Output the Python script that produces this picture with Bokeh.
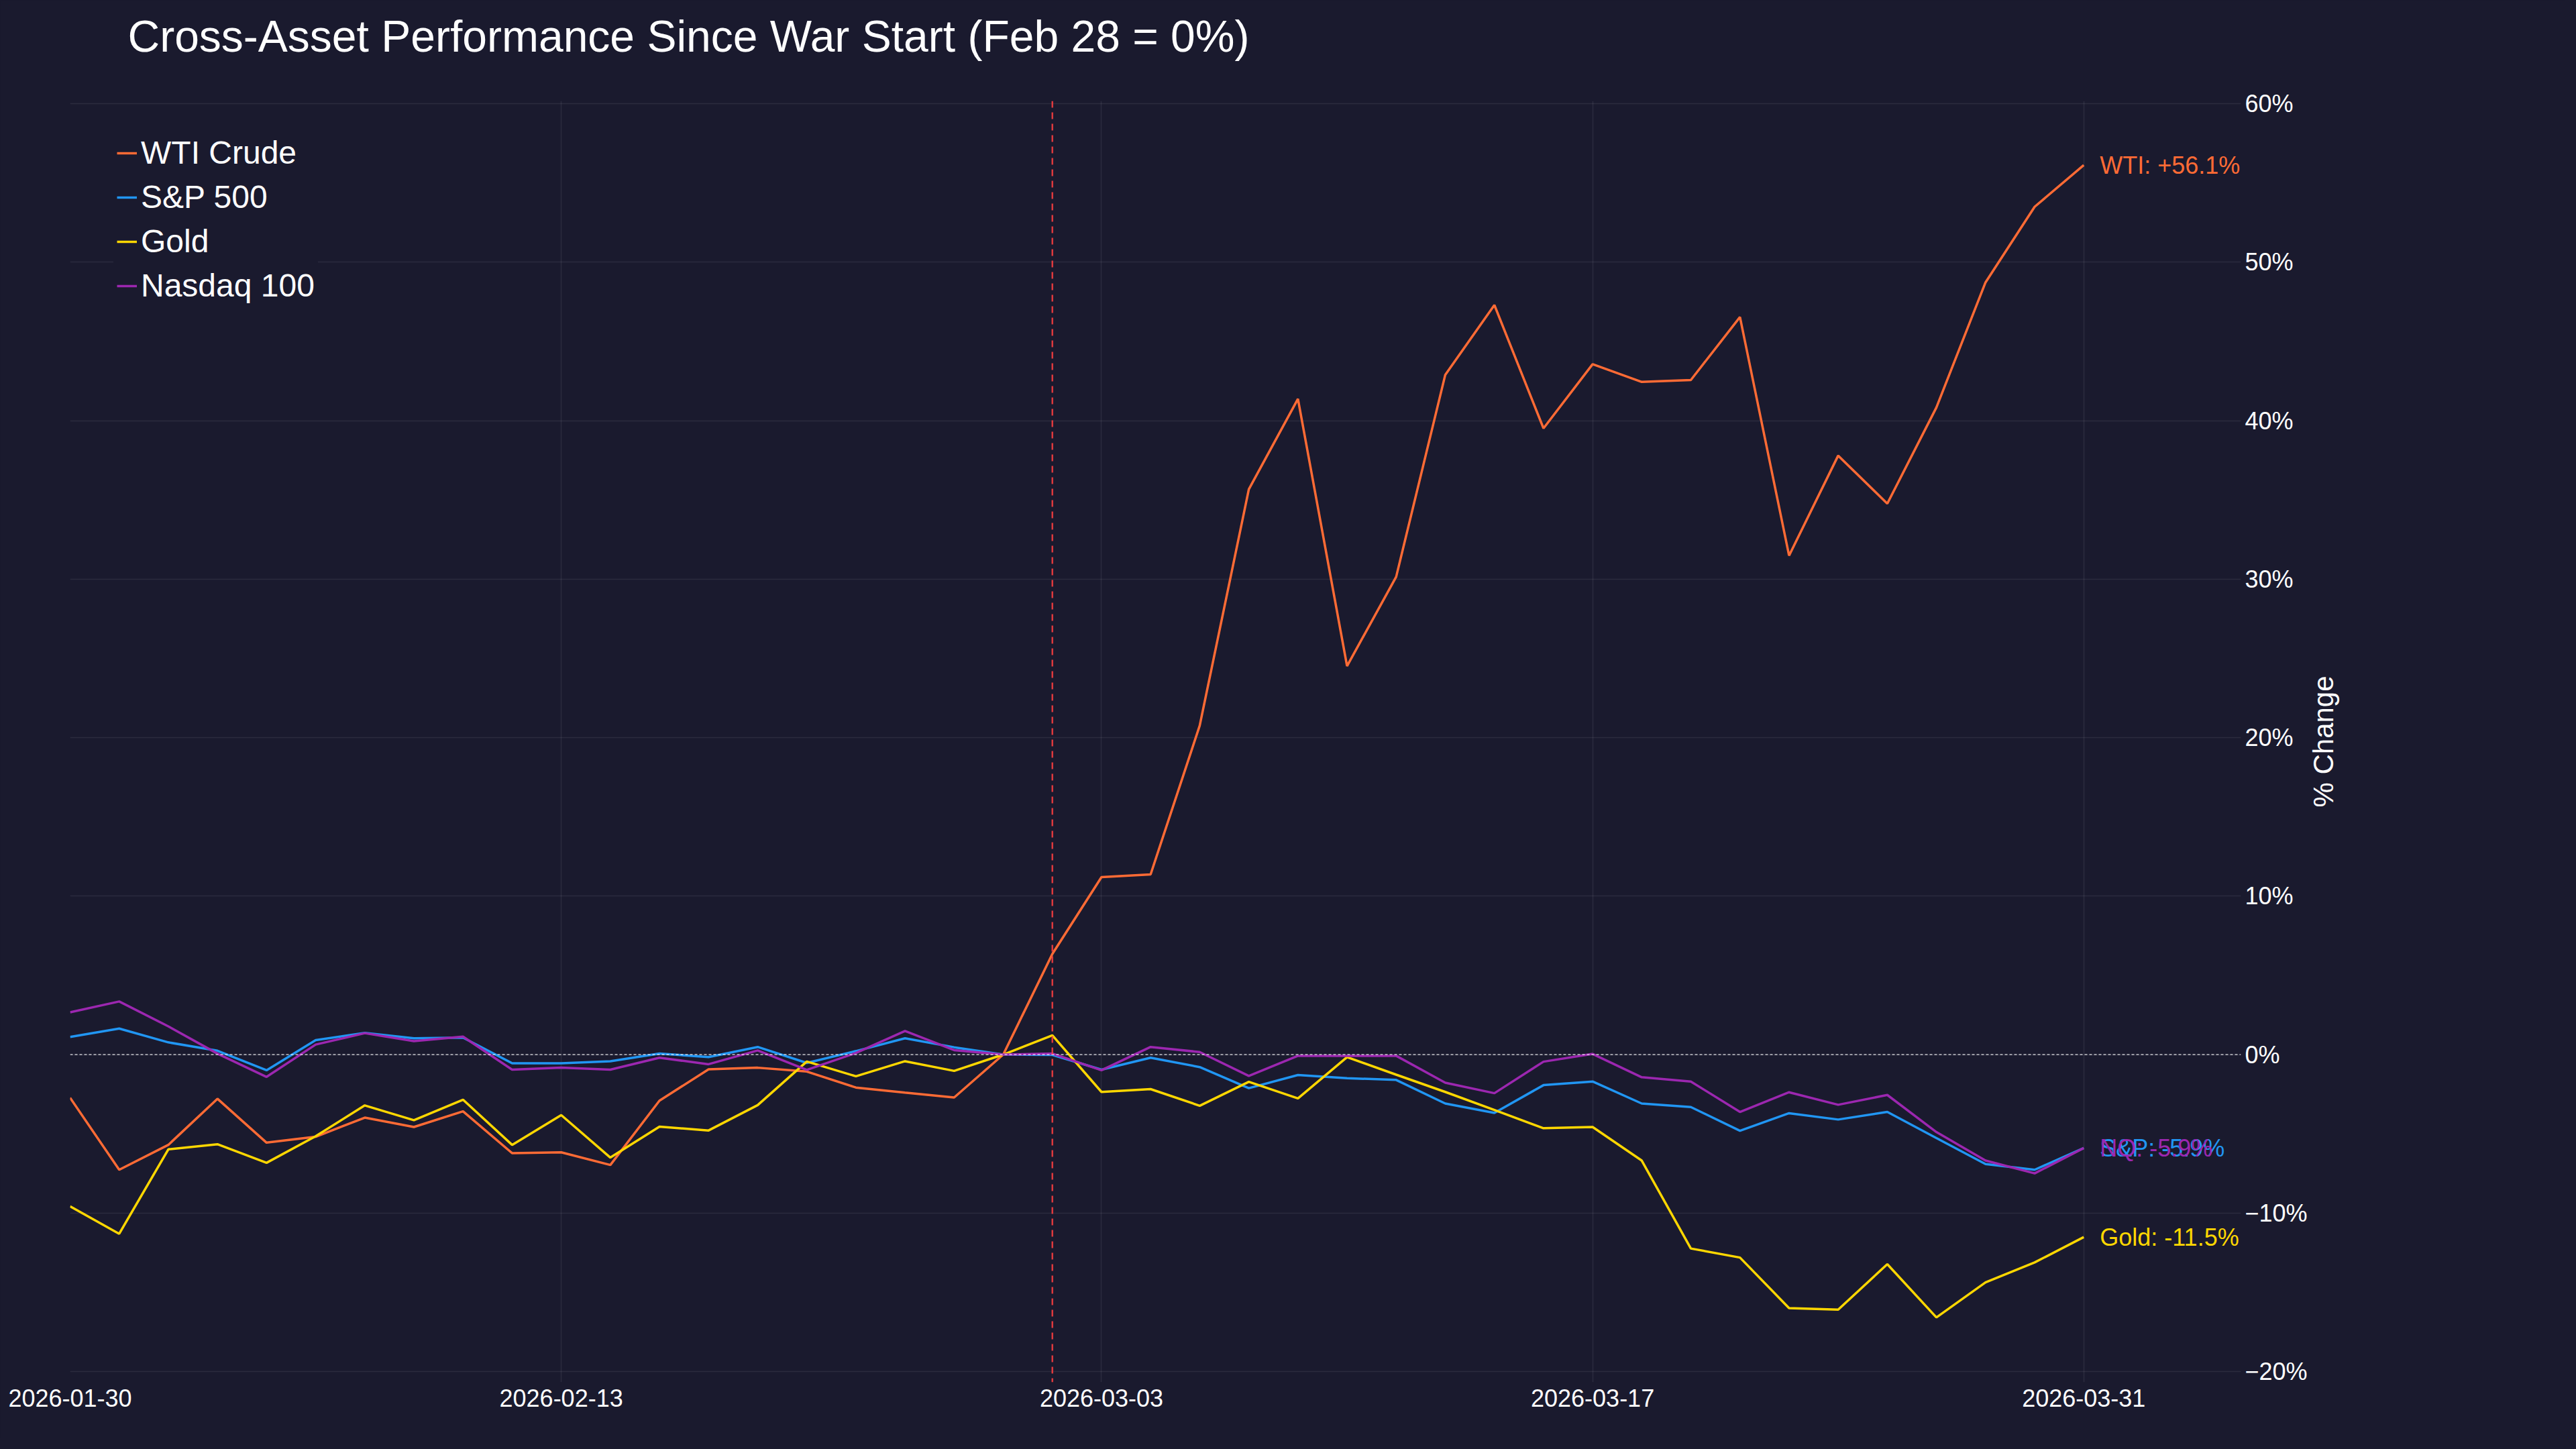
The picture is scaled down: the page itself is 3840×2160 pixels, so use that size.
import math
from bokeh.plotting import figure
from bokeh.models import (Span, FixedTicker, CustomJSTickFormatter, Range1d,
                          ColumnDataSource, LabelSet, Label, Title)
from bokeh.embed import file_html
from bokeh.resources import INLINE
from bokeh.core.properties import value

# ---------------- data ----------------
dates = [
    "2026-01-30", "2026-02-02", "2026-02-03", "2026-02-04", "2026-02-05", "2026-02-06",
    "2026-02-09", "2026-02-10", "2026-02-11", "2026-02-12", "2026-02-13",
    "2026-02-17", "2026-02-18", "2026-02-19", "2026-02-20",
    "2026-02-23", "2026-02-24", "2026-02-25", "2026-02-26", "2026-02-27",
    "2026-03-02", "2026-03-03", "2026-03-04", "2026-03-05", "2026-03-06",
    "2026-03-09", "2026-03-10", "2026-03-11", "2026-03-12", "2026-03-13",
    "2026-03-16", "2026-03-17", "2026-03-18", "2026-03-19", "2026-03-20",
    "2026-03-23", "2026-03-24", "2026-03-25", "2026-03-26", "2026-03-27",
    "2026-03-30", "2026-03-31",
]

wti = [-2.73, -7.27, -5.70, -2.79, -5.56, -5.19, -3.98, -4.57, -3.58, -6.22, -6.17,
       -6.97, -2.91, -0.93, -0.83, -1.07, -2.08, -2.40, -2.71, 0.0,
       6.35, 11.2, 11.37, 20.76, 35.67, 41.38, 24.52, 30.15, 42.9, 47.3,
       39.52, 43.57, 42.45, 42.57, 46.54, 31.49, 37.8, 34.77, 40.84, 48.73,
       53.5, 56.13]

spx = [1.11, 1.64, 0.77, 0.24, -0.99, 0.91, 1.37, 1.03, 1.07, -0.55, -0.55,
       -0.42, 0.06, -0.16, 0.48, -0.53, 0.22, 1.03, 0.46, 0.0,
       -0.02, -0.95, -0.20, -0.79, -2.12, -1.29, -1.49, -1.60, -3.09, -3.68,
       -1.93, -1.70, -3.09, -3.31, -4.81, -3.70, -4.10, -3.62, -5.27, -6.91,
       -7.27, -5.90]

gold = [-9.58, -11.31, -5.98, -5.66, -6.83, -5.15, -3.21, -4.14, -2.85, -5.70, -3.82,
        -6.50, -4.55, -4.79, -3.19, -0.44, -1.37, -0.42, -1.03, 0.0,
        1.21, -2.36, -2.18, -3.23, -1.72, -2.77, -0.16, -1.27, -2.36, -3.50,
        -4.65, -4.57, -6.69, -12.24, -12.81, -16.00, -16.10, -13.23, -16.59, -14.38,
        -13.12, -11.52]

ndx = [2.67, 3.35, 1.78, 0.06, -1.41, 0.63, 1.35, 0.85, 1.13, -0.95, -0.83,
       -0.95, -0.20, -0.61, 0.26, -0.97, 0.10, 1.49, 0.28, 0.0,
       0.06, -0.99, 0.48, 0.16, -1.35, -0.08, -0.08, -0.08, -1.78, -2.44,
       -0.45, 0.04, -1.43, -1.70, -3.62, -2.38, -3.17, -2.55, -4.89, -6.69,
       -7.50, -5.90]

series_names = ["WTI Crude", "S&P 500", "Gold", "Nasdaq 100"]
short_names = ["WTI", "S&P", "Gold", "NQ"]
series_values = [wti, spx, gold, ndx]
colors = ["#FF6B35", "#2196F3", "#FFD700", "#9C27B0"]

x_tick_labels = ["2026-01-30", "2026-02-13", "2026-03-03", "2026-03-17", "2026-03-31"]
y_ticks = [-20, -10, 0, 10, 20, 30, 40, 50, 60]
war_marker_date = "2026-03-02"
title_text = "Cross-Asset Performance Since War Start (Feb 28 = 0%)"
y_label = "% Change"

# ---------------- figure ----------------
BG = "#1a1a2e"
FONT = "Liberation Sans"
X_MAX = 44.2
Y_MIN, Y_MAX = -20.68, 60.18
W, H = 3824, 2144
BL, BR, BT, BB = 104, 484, 150, 84

x = list(range(len(dates)))

p = figure(width=W, height=H, output_backend="svg", toolbar_location=None,
           x_range=Range1d(0, X_MAX), y_range=Range1d(Y_MIN, Y_MAX),
           y_axis_location="right", title=title_text,
           min_border_left=BL, min_border_right=BR,
           min_border_top=BT, min_border_bottom=BB)

p.background_fill_color = BG
p.border_fill_color = BG
p.outline_line_color = None

p.title.text_font = FONT
p.title.text_font_size = "66px"
p.title.text_font_style = "normal"
p.title.text_color = "white"
p.title.align = "left"
p.title.offset = 86
p.title.standoff = 0
# blank spacer between the title and the plot frame
p.add_layout(Title(text=" ", text_font_size="10px", standoff=47), "above")

# grid
p.grid.grid_line_color = "white"
p.grid.grid_line_alpha = 0.08
p.grid.grid_line_width = 1.5

# axes
tick_pos = [dates.index(d) for d in x_tick_labels]
p.xaxis.ticker = FixedTicker(ticks=tick_pos)
p.xaxis.major_label_overrides = {pos: lab for pos, lab in zip(tick_pos, x_tick_labels)}
p.yaxis.ticker = FixedTicker(ticks=y_ticks)
p.yaxis.formatter = CustomJSTickFormatter(
    code="return (tick < 0 ? '\\u2212' : '') + Math.abs(tick).toFixed(0) + '%';")

for ax in (p.xaxis, p.yaxis):
    ax.axis_line_color = None
    ax.major_tick_line_color = None
    ax.minor_tick_line_color = None
    ax.major_label_text_font = FONT
    ax.major_label_text_font_size = "36px"
    ax.major_label_text_color = "white"
p.xaxis.major_label_standoff = 4
p.yaxis.major_label_standoff = 0

# y-axis title, reading bottom-to-top, in its own panel right of the axis
frame_h = H - BT - BB
p.add_layout(Label(x=21, y=frame_h / 2, x_units="screen", y_units="screen",
                   text=y_label, angle=math.pi / 2,
                   text_align="center", text_baseline="middle", text_color="white",
                   text_font=FONT, text_font_size="42px"), "right")

# reference lines
p.add_layout(Span(location=0, dimension="width", line_color="white", line_alpha=0.55,
                  line_dash="4 3", line_width=2))
p.add_layout(Span(location=dates.index(war_marker_date), dimension="height",
                  line_color="#FF4040", line_alpha=0.85, line_dash="10 7", line_width=2.5))

# series
for name, vals, col in zip(series_names, series_values, colors):
    p.line(x, vals, line_color=col, line_width=3.5, legend_label=name)

# end labels
last_i = len(dates) - 1
lab_src = ColumnDataSource(dict(
    x=[last_i] * len(series_values),
    y=[v[-1] for v in series_values],
    text=[f"{s}: {v[-1]:+.1f}%" for s, v in zip(short_names, series_values)],
    color=colors,
))
p.add_layout(LabelSet(x="x", y="y", text="text", source=lab_src, x_offset=24,
                      text_baseline="middle", text_align="left", text_color="color",
                      text_font=value(FONT), text_font_size=value("36px")))

# legend
lg = p.legend[0]
lg.location = (65, 1602)
lg.label_text_font = FONT
lg.label_text_font_size = "48px"
lg.label_text_color = "white"
lg.background_fill_color = BG
lg.background_fill_alpha = 1.0
lg.border_line_alpha = 0
lg.glyph_width = 30
lg.glyph_height = 20
lg.label_standoff = 6
lg.label_height = 54
lg.padding = 5
lg.spacing = 11
lg.margin = 0

html = file_html(p, INLINE)
html = html.replace("</head>", "<style>html,body{background:#1a1a2e;}</style></head>", 1)
open("out.html", "w").write(html)
